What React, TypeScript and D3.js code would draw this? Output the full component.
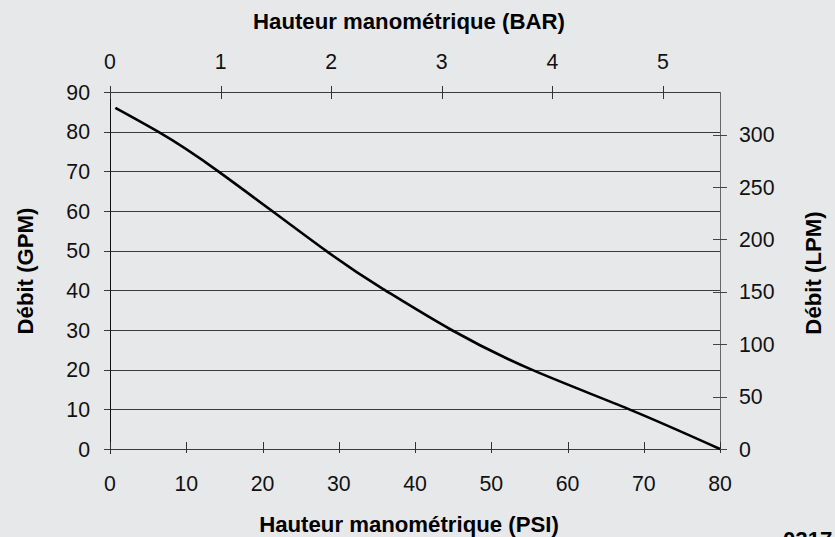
import React from "react";
import * as d3 from "d3";

const psi = [0.7, 6.3, 14.2, 28.3, 36.1, 44.8, 55.3, 68.1, 80];
const gpm = [86, 80, 70, 50, 40, 30, 20, 10, 0];
const psiTicks = [0, 10, 20, 30, 40, 50, 60, 70, 80];
const barTicks = [0, 1, 2, 3, 4, 5];
const gpmTicks = [0, 10, 20, 30, 40, 50, 60, 70, 80, 90];
const lpmTicks = [0, 50, 100, 150, 200, 250, 300];
const PSI_PER_BAR = 14.5038;
const LPM_PER_GPM = 3.78541;

const W = 835;
const H = 537;
const L = 110, R = 720, T = 92, B = 449;
const FONT = "'Liberation Sans', Arial, sans-serif";

export default function App() {
  const x = d3.scaleLinear().domain([0, 80]).range([L, R]);
  const y = d3.scaleLinear().domain([0, 90]).range([B, T]);
  const xBar = d3.scaleLinear().domain([0, 80 / PSI_PER_BAR]).range([L, R]);
  const yL = d3.scaleLinear().domain([0, 90 * LPM_PER_GPM]).range([B, T]);
  const pts: [number, number][] = psi.map((p, i) => [p, gpm[i]]);
  const line = d3
    .line<[number, number]>()
    .x((d) => x(d[0]))
    .y((d) => y(d[1]))
    .curve(d3.curveNatural);
  const r = (v: number) => Math.round(v) + 0.5;
  const TF = 21.3;
  const LF = 22.2;
  return (
    <svg
      width={W}
      height={H}
      style={{ position: "absolute", left: 0, top: 0, display: "block" }}
      fontFamily={FONT}
    >
      <rect x={0} y={0} width={W} height={H} fill="#e7e8ea" />
      {gpmTicks.map((g) => (
        <line key={"g" + g} x1={L - 6} x2={R} y1={r(y(g))} y2={r(y(g))} stroke="#3a3a3a" strokeWidth={1} />
      ))}
      <line x1={r(R)} x2={r(R)} y1={T} y2={B} stroke="#666" strokeWidth={1} />
      <line x1={r(L)} x2={r(L)} y1={T - 6} y2={B + 5} stroke="#111" strokeWidth={1} />
      {psiTicks.map((p) => (
        <line key={"pt" + p} x1={r(x(p))} x2={r(x(p))} y1={B - 7} y2={B + 4} stroke="#333" />
      ))}
      {barTicks.map((b) => (
        <line key={"bt" + b} x1={r(xBar(b))} x2={r(xBar(b))} y1={T - 6} y2={T + 7} stroke="#333" />
      ))}
      {lpmTicks.map((l) => (
        <line key={"lt" + l} x1={R - 7} x2={R + 7} y1={r(yL(l))} y2={r(yL(l))} stroke="#444" />
      ))}
      <path d={line(pts) || ""} fill="none" stroke="#000" strokeWidth={2.6} />
      {psiTicks.map((p) => (
        <text key={"pl" + p} x={x(p)} y={491} textAnchor="middle" fontSize={TF} fill="#111">
          {p}
        </text>
      ))}
      {barTicks.map((b) => (
        <text key={"bl" + b} x={xBar(b)} y={69} textAnchor="middle" fontSize={TF} fill="#111">
          {b}
        </text>
      ))}
      {gpmTicks.map((g) => (
        <text key={"gl" + g} x={90} y={y(g) + 7.5} textAnchor="end" fontSize={TF} fill="#111">
          {g}
        </text>
      ))}
      {lpmTicks.map((l) => (
        <text key={"ll" + l} x={739} y={yL(l) + 7.5} textAnchor="start" fontSize={TF} fill="#111">
          {l}
        </text>
      ))}
      <text x={409} y={29} textAnchor="middle" fontSize={LF} fontWeight="bold" fill="#000">
        Hauteur manométrique (BAR)
      </text>
      <text x={409} y={532} textAnchor="middle" fontSize={LF} fontWeight="bold" fill="#000">
        Hauteur manométrique (PSI)
      </text>
      <text
        transform={`translate(33,271) rotate(-90)`}
        textAnchor="middle"
        fontSize={LF}
        fontWeight="bold"
        fill="#000"
      >
        Débit (GPM)
      </text>
      <text
        transform={`translate(821,273) rotate(-90)`}
        textAnchor="middle"
        fontSize={LF}
        fontWeight="bold"
        fill="#000"
      >
        Débit (LPM)
      </text>
      <text x={783} y={547} fontSize={LF} fontWeight="bold" fill="#000">
        0217
      </text>
    </svg>
  );
}
